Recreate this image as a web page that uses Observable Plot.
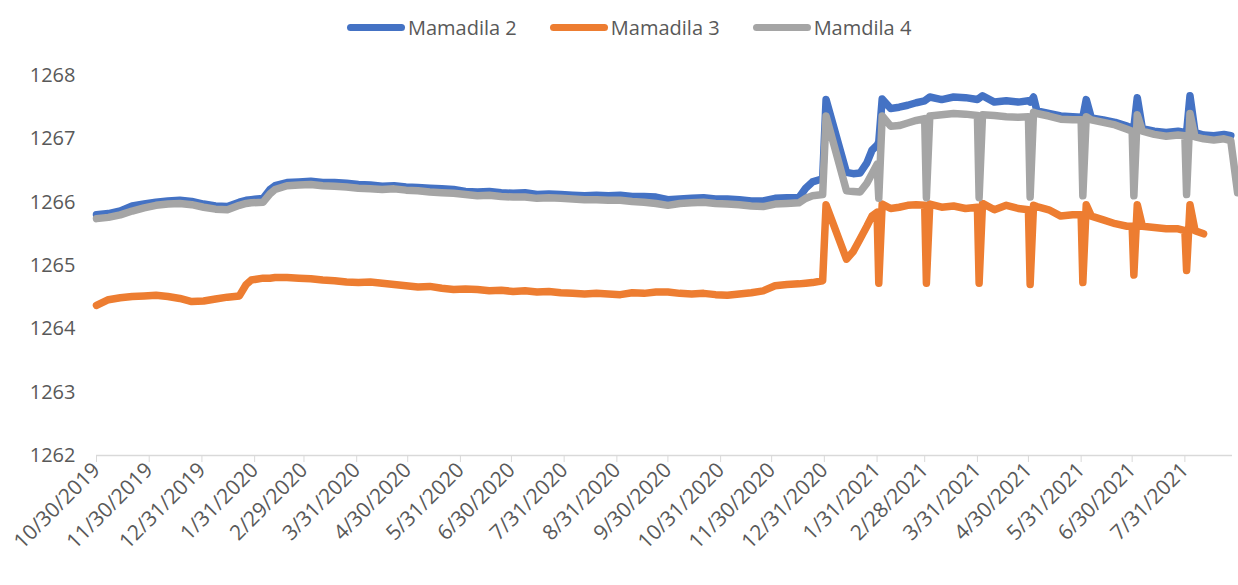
<!DOCTYPE html>
<html>
<head>
<meta charset="utf-8">
<script src="https://cdn.jsdelivr.net/npm/d3@7"></script>
<script src="https://cdn.jsdelivr.net/npm/@observablehq/plot@0.6"></script>
<style>
  body { margin: 0; background: #fff; font-family: "Open Sans", sans-serif; }
  #legend { height: 50px; display: flex; align-items: center; padding-left: 347px; font-size: 20px; color: #595959; position: relative; top: 2px; }
  .item { display: flex; align-items: center; margin-right: 33px; }
  .sw { width: 58px; height: 7px; border-radius: 4px; margin-right: 3px; }
  #chart svg { display: block; }
</style>
</head>
<body>
<div id="legend"></div>
<div id="chart"></div>
<script>
const seriesNames = ["Mamadila 2", "Mamadila 3", "Mamdila 4"];
const seriesColors = ["#4472C4", "#ED7D31", "#A5A5A5"];

const dates = [
  "2019-10-30","2019-11-06","2019-11-13","2019-11-20","2019-11-27","2019-12-04","2019-12-11","2019-12-18","2019-12-25",
  "2020-01-01","2020-01-08","2020-01-15","2020-01-22","2020-01-26","2020-01-29","2020-02-05","2020-02-09","2020-02-12","2020-02-19","2020-02-26",
  "2020-03-04","2020-03-11","2020-03-18","2020-03-25","2020-04-01","2020-04-08","2020-04-15","2020-04-22","2020-04-29",
  "2020-05-06","2020-05-13","2020-05-20","2020-05-27","2020-06-03","2020-06-10","2020-06-17","2020-06-24",
  "2020-07-01","2020-07-08","2020-07-15","2020-07-22","2020-07-29","2020-08-05","2020-08-12","2020-08-19","2020-08-26",
  "2020-09-02","2020-09-09","2020-09-16","2020-09-23","2020-09-30","2020-10-07","2020-10-14","2020-10-21","2020-10-28",
  "2020-11-04","2020-11-11","2020-11-18","2020-11-25","2020-12-02","2020-12-09","2020-12-16","2020-12-20","2020-12-24","2020-12-30",
  "2021-01-01","2021-01-13","2021-01-17","2021-01-21","2021-01-25","2021-01-28","2021-01-31","2021-02-01","2021-02-03",
  "2021-02-08","2021-02-13","2021-02-18","2021-02-23","2021-02-28","2021-03-01","2021-03-03",
  "2021-03-10","2021-03-17","2021-03-24","2021-03-31","2021-04-01","2021-04-03",
  "2021-04-10","2021-04-17","2021-04-24","2021-04-30","2021-05-01","2021-05-03","2021-05-05",
  "2021-05-12","2021-05-19","2021-05-26","2021-05-31","2021-06-01","2021-06-03","2021-06-06",
  "2021-06-13","2021-06-20","2021-06-27","2021-06-30","2021-07-01","2021-07-03","2021-07-06",
  "2021-07-13","2021-07-20","2021-07-27","2021-07-31","2021-08-01","2021-08-03","2021-08-06",
  "2021-08-11","2021-08-17","2021-08-23","2021-08-27","2021-08-31"
];

const mamadila2 = [
  1265.80,1265.82,1265.86,1265.94,1265.97,1266.00,1266.02,1266.03,1266.01,
  1265.97,1265.94,1265.93,1266.00,1266.03,1266.04,1266.06,1266.20,1266.26,1266.31,1266.32,
  1266.33,1266.31,1266.31,1266.30,1266.28,1266.27,1266.25,1266.26,1266.24,
  1266.23,1266.22,1266.21,1266.20,1266.17,1266.16,1266.17,1266.15,
  1266.14,1266.15,1266.12,1266.13,1266.12,1266.11,1266.10,1266.11,1266.10,
  1266.11,1266.09,1266.09,1266.08,1266.04,1266.05,1266.06,1266.07,1266.05,
  1266.05,1266.04,1266.02,1266.02,1266.06,1266.07,1266.07,1266.22,1266.32,1266.37,
  1267.62,1266.47,1266.45,1266.46,1266.62,1266.82,1266.90,1266.95,1267.63,
  1267.48,1267.50,1267.53,1267.57,1267.60,1267.62,1267.66,
  1267.62,1267.66,1267.65,1267.62,1267.64,1267.68,
  1267.58,1267.60,1267.58,1267.60,1267.58,1267.66,1267.44,
  1267.40,1267.36,1267.35,1267.34,1267.34,1267.62,1267.33,
  1267.30,1267.26,1267.20,1267.16,1267.18,1267.65,1267.16,
  1267.12,1267.10,1267.12,1267.10,1267.10,1267.68,1267.10,
  1267.06,1267.05,1267.07,1267.05,null
];

const mamadila3 = [
  1264.37,1264.46,1264.49,1264.51,1264.52,1264.53,1264.51,1264.48,1264.43,
  1264.44,1264.47,1264.50,1264.52,1264.70,1264.77,1264.80,1264.80,1264.81,1264.81,1264.80,
  1264.79,1264.77,1264.76,1264.74,1264.73,1264.74,1264.72,1264.70,1264.68,
  1264.66,1264.67,1264.64,1264.62,1264.63,1264.62,1264.60,1264.61,
  1264.59,1264.60,1264.58,1264.59,1264.57,1264.56,1264.55,1264.56,1264.55,
  1264.54,1264.57,1264.56,1264.58,1264.58,1264.56,1264.55,1264.56,1264.54,
  1264.53,1264.55,1264.57,1264.60,1264.68,1264.70,1264.71,1264.72,1264.73,1264.76,
  1265.96,1265.10,1265.22,1265.42,1265.62,1265.78,1265.84,1264.72,1265.97,
  1265.90,1265.92,1265.95,1265.96,1265.95,1264.72,1265.97,
  1265.92,1265.94,1265.90,1265.92,1264.72,1265.98,
  1265.88,1265.95,1265.90,1265.88,1264.70,1265.95,1265.93,
  1265.88,1265.78,1265.80,1265.80,1264.73,1265.96,1265.78,
  1265.72,1265.66,1265.62,1265.62,1264.85,1265.96,1265.62,
  1265.60,1265.58,1265.58,1265.55,1264.92,1265.96,1265.55,
  1265.50,null,null,null,null
];

const mamdila4 = [
  1265.74,1265.76,1265.80,1265.86,1265.91,1265.95,1265.97,1265.98,1265.96,
  1265.92,1265.89,1265.88,1265.95,1265.98,1265.99,1266.00,1266.13,1266.20,1266.26,1266.27,
  1266.28,1266.26,1266.25,1266.24,1266.22,1266.21,1266.20,1266.21,1266.19,
  1266.18,1266.16,1266.15,1266.14,1266.12,1266.10,1266.11,1266.09,
  1266.08,1266.08,1266.06,1266.07,1266.06,1266.05,1266.04,1266.04,1266.03,
  1266.03,1266.01,1266.00,1265.98,1265.95,1265.98,1265.99,1266.00,1265.98,
  1265.97,1265.96,1265.94,1265.93,1265.97,1265.98,1265.99,1266.06,1266.10,1266.12,
  1267.36,1266.18,1266.17,1266.16,1266.30,1266.45,1266.60,1266.06,1267.36,
  1267.20,1267.21,1267.25,1267.29,1267.32,1266.07,1267.36,
  1267.38,1267.40,1267.39,1267.37,1266.07,1267.38,
  1267.37,1267.35,1267.34,1267.35,1266.08,1267.42,1267.40,
  1267.36,1267.31,1267.30,1267.30,1266.10,1267.35,1267.30,
  1267.26,1267.22,1267.15,1267.12,1266.10,1267.38,1267.12,
  1267.07,1267.04,1267.06,1267.05,1266.12,1267.40,1267.03,
  1267.00,1266.98,1267.00,1266.97,1266.15
];

const xTickLabels = ["10/30/2019","11/30/2019","12/31/2019","1/31/2020","2/29/2020","3/31/2020","4/30/2020","5/31/2020","6/30/2020","7/31/2020","8/31/2020","9/30/2020","10/31/2020","11/30/2020","12/31/2020","1/31/2021","2/28/2021","3/31/2021","4/30/2021","5/31/2021","6/30/2021","7/31/2021"];
const xDomain = ["2019-10-30", "2021-08-28"];
const yTicks = [1262, 1263, 1264, 1265, 1266, 1267, 1268];

// legend
const legend = document.getElementById("legend");
seriesNames.forEach((name, i) => {
  const item = document.createElement("div");
  item.className = "item";
  const sw = document.createElement("span");
  sw.className = "sw";
  sw.style.background = seriesColors[i];
  const t = document.createElement("span");
  t.textContent = name;
  item.appendChild(sw);
  item.appendChild(t);
  legend.appendChild(item);
});

const parse = d3.utcParse("%Y-%m-%d");
const parseTick = d3.utcParse("%m/%d/%Y");
const fmt = d3.utcFormat("%-m/%-d/%Y");
const rows = (vals) => dates.map((d, i) => ({date: parse(d), value: vals[i]})).filter(r => r.value != null);
const seriesValues = [mamadila2, mamadila3, mamdila4];

const lineMarks = seriesValues.map((vals, i) =>
  Plot.line(rows(vals), {x: "date", y: "value", stroke: seriesColors[i], strokeWidth: 7.5, strokeLinejoin: "round", strokeLinecap: "round"})
);

const chart = Plot.plot({
  width: 1238,
  height: 535,
  marginTop: 25,
  marginBottom: 130,
  marginLeft: 96,
  marginRight: 6,
  style: {fontFamily: "Open Sans", fontSize: "20px", color: "#595959", background: "white", overflow: "visible"},
  x: {type: "utc", domain: xDomain.map(parse)},
  y: {domain: [1262, 1268]},
  marks: [
    Plot.ruleY([1262], {stroke: "#D9D9D9", strokeWidth: 1.5}),
    Plot.axisX(xTickLabels.map(parseTick), {tickRotate: -45, tickFormat: fmt, tickSize: 7, tickPadding: 4, stroke: "#D9D9D9", fill: "#595959", fontSize: 21, label: null}),
    Plot.axisY(yTicks, {tickSize: 0, tickPadding: 21, tickFormat: d => String(d), fill: "#595959", fontSize: 20, label: null}),
    ...lineMarks
  ]
});
document.getElementById("chart").appendChild(chart);
</script>
</body>
</html>
